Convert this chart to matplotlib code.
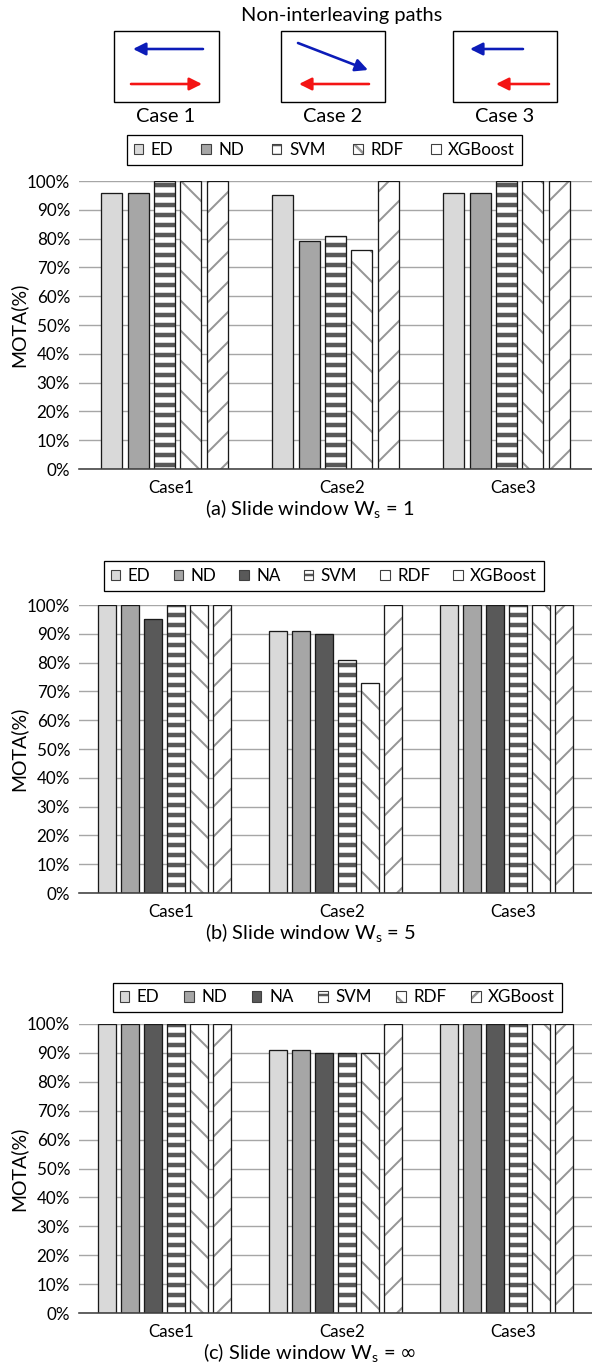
import numpy as np
import matplotlib
matplotlib.use("Agg")
import matplotlib.pyplot as plt
import matplotlib.patches as mpatches
import matplotlib.transforms as mtrans
from matplotlib.legend_handler import HandlerTuple

# ---------------- data ----------------
cases = ["Case1", "Case2", "Case3"]
yticks = [0, 10, 20, 30, 40, 50, 60, 70, 80, 90, 100]

# (a) W_s = 1
methods_a = ["ED", "ND", "SVM", "RDF", "XGBoost"]
ed_a = [96, 95, 96]
nd_a = [96, 79, 96]
svm_a = [100, 81, 100]
rdf_a = [100, 76, 100]
xgb_a = [100, 100, 100]

# (b) W_s = 5
methods_b = ["ED", "ND", "NA", "SVM", "RDF", "XGBoost"]
ed_b = [100, 91, 100]
nd_b = [100, 91, 100]
na_b = [95, 90, 100]
svm_b = [100, 81, 100]
rdf_b = [100, 73, 100]
xgb_b = [100, 100, 100]

# (c) W_s = inf
methods_c = ["ED", "ND", "NA", "SVM", "RDF", "XGBoost"]
ed_c = [100, 91, 100]
nd_c = [100, 91, 100]
na_c = [100, 90, 100]
svm_c = [100, 90, 100]
rdf_c = [100, 90, 100]
xgb_c = [100, 100, 100]

captions = [r"(a) Slide window W$_\mathregular{s}$ = 1",
            r"(b) Slide window W$_\mathregular{s}$ = 5",
            r"(c) Slide window W$_\mathregular{s}$ = $\infty$"]
diagram_title = "Non-interleaving paths"
diagram_labels = ["Case 1", "Case 2", "Case 3"]

# ---------------- style ----------------
DPI = 180
W, H = 592, 1368


def pt(px):
    return px * 72.0 / DPI


plt.rcParams["font.family"] = ["Lato", "DejaVu Sans"]
plt.rcParams["mathtext.fontset"] = "dejavusans"

# method -> (facecolor, hatch, hatch colour, hatch linewidth px)
style = {
    "ED": ("#d9d9d9", None, "#d9d9d9", 0),
    "ND": ("#a6a6a6", None, "#a6a6a6", 0),
    "NA": ("#595959", None, "#595959", 0),
    "SVM": ("white", "---", "#595959", 4.5),
    "RDF": ("white", "\\\\", "#969696", 2.0),
    "XGBoost": ("white", "//", "#969696", 2.0),
}

fig = plt.figure(figsize=(W / DPI, H / DPI), dpi=DPI)

# ---------------- top diagram ----------------
axd = fig.add_axes([0, 1 - 135 / H, 1, 135 / H])
axd.set_xlim(0, W)
axd.set_ylim(135, 0)
axd.axis("off")
boxes = [(114, 31, 105, 71), (281, 31, 104, 71), (453, 31, 104, 71)]
for (bx, by, bw, bh) in boxes:
    axd.add_patch(mpatches.Rectangle((bx, by), bw, bh, fill=False,
                                     edgecolor="black", linewidth=pt(1.4)))
axd.text(342, 15, diagram_title, ha="center", va="center", fontsize=pt(20))
for cx, lab in zip([166, 333, 505], diagram_labels):
    axd.text(cx, 116, lab, ha="center", va="center", fontsize=pt(20))

blue, red = "#0c1cb8", "#f41414"
arrows = [
    ((203, 49), (133, 49), blue), ((131, 84), (202, 84), red),
    ((298, 43), (368, 70), blue), ((369, 84), (299, 84), red),
    ((523, 49), (470, 49), blue), ((549, 84), (496, 84), red),
]
for start, tip, col in arrows:
    axd.annotate("", xy=tip, xytext=start,
                 arrowprops=dict(arrowstyle="-|>", color=col, lw=pt(2.6),
                                 mutation_scale=pt(26), shrinkA=0, shrinkB=0))

# ---------------- bar panels ----------------
panels = [
    dict(top=181, bottom=469, methods=methods_a,
         values=[ed_a, nd_a, svm_a, rdf_a, xgb_a],
         pitch=0.154, width=0.123, leg=(127, 133, 522, 167)),
    dict(top=605, bottom=893, methods=methods_b,
         values=[ed_b, nd_b, na_b, svm_b, rdf_b, xgb_b],
         pitch=0.134, width=0.108, leg=(104, 559, 544, 593)),
    dict(top=1024, bottom=1313, methods=methods_c,
         values=[ed_c, nd_c, na_c, svm_c, rdf_c, xgb_c],
         pitch=0.134, width=0.108, leg=(113, 980, 562, 1015)),
]

left, right = 79, 592
xpos = np.arange(len(cases))

for k, p in enumerate(panels):
    ax = fig.add_axes([left / W, 1 - p["bottom"] / H, (right - left) / W,
                       (p["bottom"] - p["top"]) / H])
    n = len(p["methods"])
    handles = []
    for i, (m, vals) in enumerate(zip(p["methods"], p["values"])):
        fc, hatch, hc, hlw = style[m]
        x = xpos + (i - (n - 1) / 2) * p["pitch"]
        bars = ax.bar(x, vals, p["width"], color=fc, edgecolor=hc,
                      linewidth=0, hatch=hatch, zorder=2)
        if hatch:
            for b in bars:
                if hasattr(b, "set_hatch_linewidth"):
                    b.set_hatch_linewidth(pt(hlw))
        ax.bar(x, vals, p["width"], fill=False, edgecolor="#1a1a1a",
               linewidth=pt(1.3), zorder=3)
        h1 = mpatches.Patch(facecolor=fc, edgecolor=hc, linewidth=0, hatch=hatch)
        if hatch and hasattr(h1, "set_hatch_linewidth"):
            h1.set_hatch_linewidth(pt(hlw))
        h2 = mpatches.Patch(fill=False, edgecolor="#404040", linewidth=pt(1.1))
        handles.append((h1, h2))

    ax.set_xlim(-0.5, len(cases) - 0.5)
    ax.set_ylim(0, 100)
    ax.set_yticks(yticks)
    ax.set_yticklabels([f"{v}%" for v in yticks])
    ax.set_xticks(xpos)
    ax.set_xticklabels(cases)
    ax.set_axisbelow(True)
    ax.yaxis.grid(True, color="#a6a6a6", linewidth=pt(1.4))
    for s in ["top", "right", "left"]:
        ax.spines[s].set_visible(False)
    ax.spines["bottom"].set_color("#404040")
    ax.spines["bottom"].set_linewidth(pt(1.6))
    ax.spines["bottom"].set_zorder(4)
    ax.tick_params(axis="y", length=0, pad=pt(9), labelsize=pt(17))
    ax.tick_params(axis="x", length=0, pad=pt(11), labelsize=pt(17))
    off = mtrans.ScaledTranslation(7 / DPI, 0, fig.dpi_scale_trans)
    for lab in ax.get_xticklabels():
        lab.set_transform(lab.get_transform() + off)

    fig.text(18 / W, 1 - (p["top"] + p["bottom"]) / 2 / H, "MOTA(%)",
             rotation=90, ha="center", va="center", fontsize=pt(19.5))
    fig.text(310 / W, 1 - (p["bottom"] + 40) / H, captions[k],
             ha="center", va="center", fontsize=pt(20))

    x0, y0, x1, y1 = p["leg"]
    leg = fig.legend(handles, p["methods"], loc="center",
                     bbox_to_anchor=(x0 / W, 1 - y1 / H, (x1 - x0) / W, (y1 - y0) / H),
                     mode="expand", ncol=n, fontsize=pt(17), frameon=True,
                     fancybox=False, edgecolor="black", framealpha=1,
                     borderpad=0.4, handlelength=0.55, handleheight=0.55,
                     handletextpad=0.45, borderaxespad=0,
                     handler_map={tuple: HandlerTuple(ndivide=1)})
    leg.get_frame().set_linewidth(pt(1.3))

fig.savefig("out.png", dpi=DPI)
